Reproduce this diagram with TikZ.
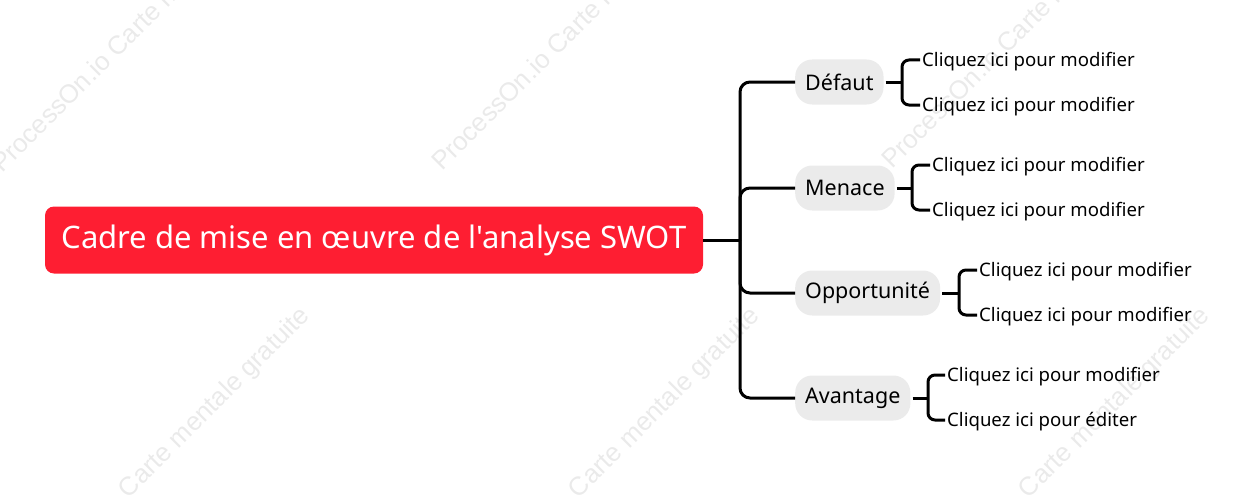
\documentclass[tikz,border=0pt]{standalone}
\usepackage{fontspec}
\setmainfont{Noto Sans}
\newfontfamily\plainfont{Noto Sans}
\newfontfamily\wmfont{Liberation Sans}
\definecolor{rootred}{HTML}{FE1E32}
\definecolor{pillgray}{HTML}{EBEBEB}
\definecolor{wmgray}{HTML}{EAEAEA}
\begin{document}
\begin{tikzpicture}[x=1pt,y=-1pt,
  conn/.style={line width=3pt, rounded corners=10pt},
  brace/.style={line width=3pt, rounded corners=7pt},
  rootbox/.style={fill=rootred, rounded corners=9pt, text=white, minimum width=658pt, minimum height=67pt, inner sep=0pt, font=\plainfont\fontsize{31}{36}\selectfont},
  pill/.style={fill=pillgray, rounded corners=17pt, minimum height=45pt, inner xsep=10pt, anchor=west, font=\fontsize{21.5}{25}\selectfont},
  leaf/.style={anchor=west, inner xsep=2pt, inner ysep=1pt, text height=13.5pt, text depth=0pt, font=\fontsize{18.6}{22}\selectfont},
  wmtop/.style={text=wmgray, font=\wmfont\fontsize{26}{30}\selectfont, rotate=45, inner sep=0pt, anchor=base west},
  wmbot/.style={text=wmgray, font=\wmfont\fontsize{26}{30}\selectfont, rotate=45, inner sep=0pt, anchor=base east}]
\useasboundingbox (0,0) rectangle (1255,495);
% watermarks
\node[wmtop] (w1) at (2,174) {ProcessOn.io Carte mentale gratuite};
\node[wmtop] (w2) at (442,172) {ProcessOn.io Carte mentale gratuite};
\node[wmtop] (w3) at (892,170) {ProcessOn.io Carte mentale gratuite};
\node[wmbot] (w4) at (311,317) {ProcessOn.io Carte mentale gratuite};
\node[wmbot] (w5) at (761,317) {ProcessOn.io Carte mentale gratuite};
\node[wmbot] (w6) at (1211,317) {ProcessOn.io Carte mentale gratuite};
% root
\node[rootbox] (root) at (374,240) {Cadre de mise en œuvre de l'analyse SWOT};
% level 1
\node[pill] (d) at (795,82) {Défaut};
\node[pill] (m) at (795,188) {Menace};
\node[pill] (o) at (795,293) {Opportunité};
\node[pill] (a) at (795,398) {Avantage};
\coordinate (hub) at (740,240);
\draw[conn] (root.east) -- (hub);
\foreach \n in {d,m,o,a}{\draw[conn] (hub) |- (\n.west);}
% leaves
\node[leaf] (d1) at (920,60) {Cliquez ici pour modifier};
\node[leaf] (d2) at (920,105) {Cliquez ici pour modifier};
\node[leaf] (m1) at (930,165) {Cliquez ici pour modifier};
\node[leaf] (m2) at (930,210) {Cliquez ici pour modifier};
\node[leaf] (o1) at (977,270) {Cliquez ici pour modifier};
\node[leaf] (o2) at (977,315) {Cliquez ici pour modifier};
\node[leaf] (a1) at (945,375) {Cliquez ici pour modifier};
\node[leaf] (a2) at (945,420) {Cliquez ici pour éditer};
% brackets
\coordinate (db) at (902,82);
\coordinate (mb) at (912,188);
\coordinate (ob) at (959,293);
\coordinate (ab) at (928,398);
\draw[conn] ([xshift=2pt]d.east) -- (db);
\draw[conn] ([xshift=2pt]m.east) -- (mb);
\draw[conn] ([xshift=2pt]o.east) -- (ob);
\draw[conn] ([xshift=2pt]a.east) -- (ab);
\draw[brace] (d1.west) -| (db) |- (d2.west);
\draw[brace] (m1.west) -| (mb) |- (m2.west);
\draw[brace] (o1.west) -| (ob) |- (o2.west);
\draw[brace] (a1.west) -| (ab) |- (a2.west);
\end{tikzpicture}
\end{document}
